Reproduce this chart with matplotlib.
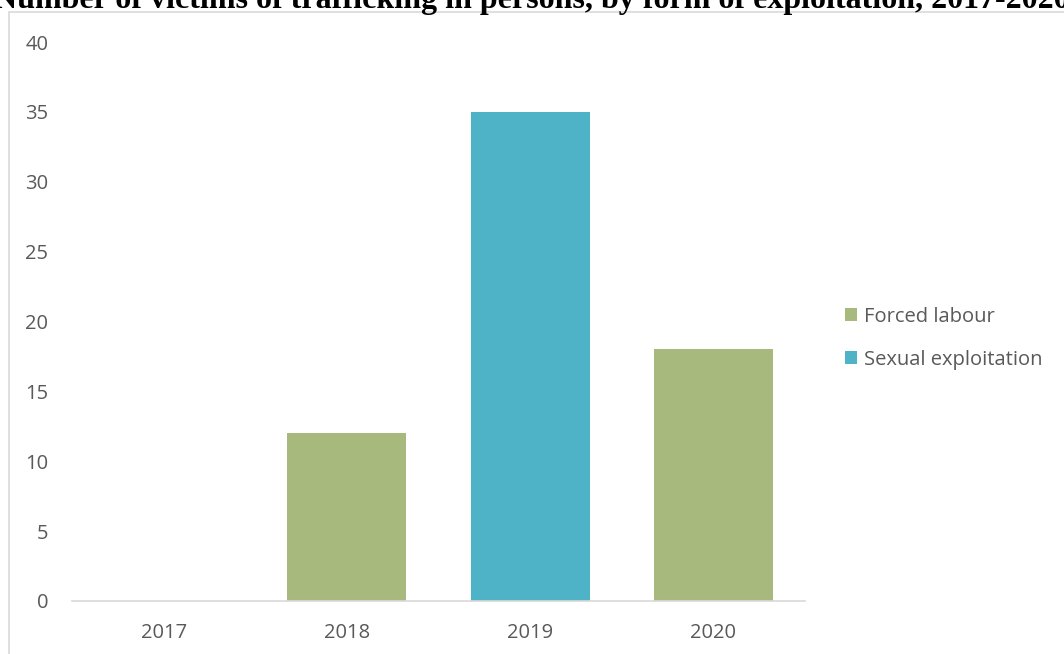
import matplotlib.pyplot as plt
from matplotlib.patches import Rectangle
import numpy as np

# Data
years = ["2017", "2018", "2019", "2020"]
forced_labour = [0, 12, 0, 18]
sexual_exploitation = [0, 0, 35, 0]
yticks = [0, 5, 10, 15, 20, 25, 30, 35, 40]

green = "#A7B97D"
blue = "#4FB3C8"
text_grey = "#595959"

plt.rcParams["font.family"] = ["Open Sans", "DejaVu Sans"]

fig = plt.figure(figsize=(10.64, 6.54), dpi=100)
W, H = 1064, 654
ax = fig.add_axes([72 / W, 1 - 601 / H, (805 - 72) / W, (601 - 42) / H])

x = np.arange(len(years))
ax.bar(x, forced_labour, width=0.65, color=green, label="Forced labour")
ax.bar(x, sexual_exploitation, width=0.65, bottom=forced_labour,
       color=blue, label="Sexual exploitation")

ax.set_xlim(-0.5, len(years) - 0.5)
ax.set_ylim(0, 40)
ax.set_yticks(yticks)
ax.set_xticks(x)
ax.set_xticklabels(years)
ax.tick_params(axis="both", length=0, labelsize=14.5, colors=text_grey)
ax.tick_params(axis="y", pad=17)
ax.tick_params(axis="x", pad=16)
for side in ["top", "right", "left"]:
    ax.spines[side].set_visible(False)
ax.spines["bottom"].set_color("#D9D9D9")
ax.spines["bottom"].set_linewidth(1.2)

leg = ax.legend(loc="center left", bbox_to_anchor=(1.054, 0.47), frameon=False,
                fontsize=14.5, handlelength=0.6, handleheight=0.6,
                handletextpad=0.35, labelspacing=1.15,
                borderpad=0, borderaxespad=0)
for t in leg.get_texts():
    t.set_color(text_grey)

# chart area border (partly cropped in the original)
fig.patches.append(Rectangle((9 / W, -0.1), 1.2, 1 - 12 / H + 0.1,
                             transform=fig.transFigure, fill=False,
                             edgecolor="#D9D9D9", linewidth=1.2, zorder=0))

fig.text(0.5, 1 - 8 / H,
         "Number of victims of trafficking in persons, by form of exploitation, 2017-2020",
         ha="center", va="baseline", fontsize=23, fontweight="bold",
         family="Liberation Serif", color="black", zorder=5)

fig.savefig("out.png", dpi=100)
